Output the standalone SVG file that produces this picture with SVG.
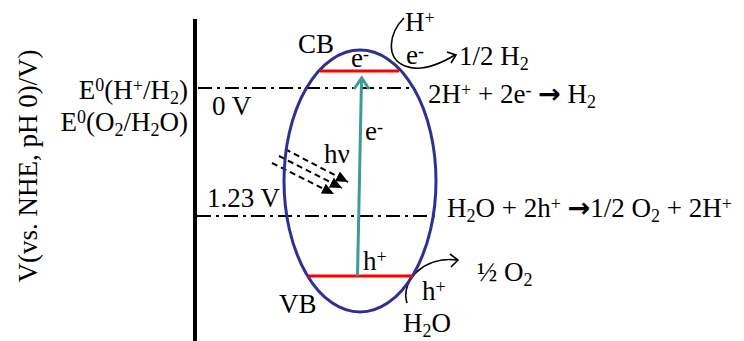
<svg xmlns="http://www.w3.org/2000/svg" width="744" height="341" viewBox="0 0 744 341">
<defs>
<style>
.t{font-family:"Liberation Serif","Times New Roman",serif;font-size:27px;fill:#000}
.s{font-size:18px}
.ar{font-family:"DejaVu Sans",sans-serif;font-weight:bold;font-size:27px}
.dd{fill:none;stroke:#000;stroke-width:2;stroke-dasharray:14,5,3,5}
.hv{fill:none;stroke:#000;stroke-width:2;stroke-dasharray:6,4}
.cv{fill:none;stroke:#000;stroke-width:1.6}
</style>
<marker id="tri" markerUnits="userSpaceOnUse" markerWidth="13" markerHeight="11" refX="12" refY="5.5" orient="auto">
<path d="M0,0 L12,5.5 L0,11 z" fill="#000"/>
</marker>
</defs>
<rect width="744" height="341" fill="#fff"/>

<g id="axis">
<line x1="195" y1="19" x2="195" y2="341" stroke="#000" stroke-width="4"/>
<text class="t" transform="translate(37,166) rotate(-90)" text-anchor="middle">V(vs. NHE, pH 0)/V)</text>
</g>

<g id="levels">
<text class="t" x="188" y="99" text-anchor="end">E<tspan class="s" dy="-8">0</tspan><tspan dy="8">(H</tspan><tspan class="s" dy="-7">+</tspan><tspan dy="7">/H</tspan><tspan class="s" dy="5">2</tspan><tspan dy="-5">)</tspan></text>
<text class="t" x="188" y="131" text-anchor="end">E<tspan class="s" dy="-8">0</tspan><tspan dy="8">(O</tspan><tspan class="s" dy="5">2</tspan><tspan dy="-5">/H</tspan><tspan class="s" dy="5">2</tspan><tspan dy="-5">O)</tspan></text>
<text class="t" x="212" y="115">0 V</text>
<text class="t" x="207" y="207">1.23 V</text>
</g>

<g id="connectors">
<line class="dd" x1="198" y1="88" x2="414" y2="88"/>
<line class="dd" x1="197" y1="216" x2="436" y2="216"/>
<line class="hv" x1="285" y1="149" x2="348" y2="182" marker-end="url(#tri)"/>
<line class="hv" x1="279" y1="156" x2="342" y2="188" marker-end="url(#tri)"/>
<line class="hv" x1="272" y1="163" x2="334" y2="194" marker-end="url(#tri)"/>
<path class="cv" d="M404,18 C389,33 385,58 405,66 C420,72 440,64 455,55"/>
<path class="cv" d="M447,52 L456,55 L451,63"/>
<path class="cv" d="M407,303 C400,280 425,256 457,260"/>
<path class="cv" d="M450,254 L458,260 L451,267"/>
</g>

<g id="semiconductor">
<ellipse cx="360" cy="181" rx="76" ry="131" fill="none" stroke="#2e3192" stroke-width="3"/>
<line x1="320" y1="71" x2="399" y2="71" stroke="#ff0000" stroke-width="3"/>
<line x1="308" y1="276" x2="413" y2="276" stroke="#ff0000" stroke-width="3"/>
<line x1="357.5" y1="276" x2="361.5" y2="80" stroke="#3f9a9e" stroke-width="3"/>
<path d="M354,89 L361.7,78 L369,89" fill="none" stroke="#3f9a9e" stroke-width="3"/>
<text class="t" x="298" y="53">CB</text>
<text class="t" x="351" y="67">e<tspan class="s" dy="-7">-</tspan></text>
<text class="t" x="365" y="140">e<tspan class="s" dy="-7">-</tspan></text>
<text class="t" x="324" y="163">hν</text>
<text class="t" x="363" y="270">h<tspan class="s" dy="-7">+</tspan></text>
<text class="t" x="279" y="313">VB</text>
</g>

<g id="reactions">
<text class="t" x="405" y="31">H<tspan class="s" dy="-7">+</tspan></text>
<text class="t" x="406" y="64">e<tspan class="s" dy="-7">-</tspan></text>
<text class="t" x="459" y="65">1/2 H<tspan class="s" dy="5">2</tspan></text>
<text class="t" x="428" y="103">2H<tspan class="s" dy="-7">+</tspan><tspan dy="7"> + 2e</tspan><tspan class="s" dy="-7">-</tspan><tspan dy="7"> </tspan><tspan class="ar">→</tspan> H<tspan class="s" dy="5">2</tspan></text>
<text class="t" x="447" y="217">H<tspan class="s" dy="5">2</tspan><tspan dy="-5">O + 2h</tspan><tspan class="s" dy="-7">+</tspan><tspan dy="7"> </tspan><tspan class="ar">→</tspan>1/2 O<tspan class="s" dy="5">2</tspan><tspan dy="-5"> + 2H</tspan><tspan class="s" dy="-7">+</tspan></text>
<text class="t" x="477" y="281">½ O<tspan class="s" dy="5">2</tspan></text>
<text class="t" x="422" y="300">h<tspan class="s" dy="-7">+</tspan></text>
<text class="t" x="403" y="332">H<tspan class="s" dy="5">2</tspan><tspan dy="-5">O</tspan></text>
</g>
</svg>
